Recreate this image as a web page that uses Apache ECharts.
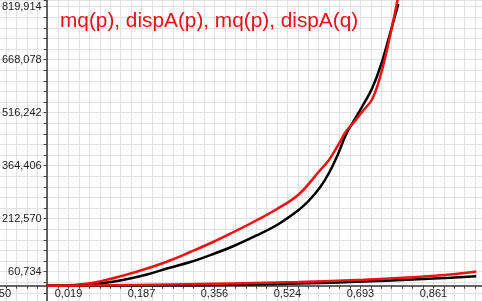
<!DOCTYPE html>
<html><head><meta charset="utf-8">
<script src="https://cdn.jsdelivr.net/npm/echarts@6/dist/echarts.min.js"></script>
<style>html,body{margin:0;padding:0;background:#fff}#c{width:482px;height:301px}</style>
</head><body><div id="c"></div>
<script>
var titleText = 'mq(p), dispA(p), mq(p), dispA(q)';
var xTickLabels = ['-0,150', '0,019', '0,187', '0,356', '0,524', '0,693', '0,861'];
var yTickLabels = ['-91,102', '60,734', '212,570', '364,406', '516,242', '668,078', '819,914'];
var xMin = -0.14955, xMax = 0.9732, xStep = 0.16845;
var yMin = -91102, yMax = 839100, yStep = 151836;

var blackX = [-0.031, 0.0, 0.05, 0.1, 0.15, 0.2, 0.25, 0.3, 0.35, 0.4, 0.45, 0.5, 0.55, 0.575, 0.6, 0.62, 0.64, 0.66, 0.68, 0.70, 0.72, 0.74, 0.76, 0.78];
var mqBlack = [20627, 20913, 22632, 28362, 38389, 52713, 71334, 88523, 110009, 134359, 163007, 194520, 237492, 266140, 303383, 343490, 395056, 455217, 498189, 541161, 586998, 652888, 738832, 827641];
var redX = [-0.031, 0.0, 0.05, 0.1, 0.15, 0.2, 0.25, 0.3, 0.35, 0.4, 0.45, 0.5, 0.55, 0.6, 0.62, 0.64, 0.66, 0.68, 0.70, 0.72, 0.74, 0.76, 0.78];
var dispRed = [20627, 21200, 24638, 35524, 51280, 69901, 91387, 117171, 144386, 174467, 205979, 240357, 281897, 352084, 380732, 420839, 463811, 492459, 523972, 555485, 627105, 730238, 850559];
var smallRedX = [-0.031, 0.1, 0.25, 0.4, 0.55, 0.7, 0.8, 0.9, 0.96];
var smallRed = [20627, 21773, 24065, 27216, 31227, 37529, 43832, 52713, 61307];
var smallBlackX = [-0.031, 0.25, 0.4, 0.55, 0.7, 0.8, 0.9, 0.96];
var smallBlack = [20627, 21773, 23205, 26643, 32372, 37529, 43259, 47556];

function pairs(xs, ys) { return xs.map(function (x, i) { return [x, ys[i]]; }); }
var gridColor = '#e2e2e2';
var chart = echarts.init(document.getElementById('c'), null, {renderer: 'canvas'});
function line(name, xs, ys, color) {
  return {name: name, type: 'line', data: pairs(xs, ys), showSymbol: false, smooth: 0.4,
    lineStyle: {color: color, width: 2.5}, itemStyle: {color: color}, clip: true};
}
chart.setOption({
  animation: false,
  backgroundColor: '#fff',
  title: {text: titleText, left: 60, top: 11, padding: 0,
    textStyle: {fontFamily: 'Liberation Sans', fontSize: 20.8, fontWeight: 'normal', color: '#e8101a'}},
  grid: {left: -4.5, right: 0, top: 0, bottom: -23.7, containLabel: false, outerBoundsMode: 'none'},
  xAxis: {type: 'value', min: xMin, max: xMax, interval: xStep, position: 'bottom', offset: -39,
    axisLine: {onZero: false, lineStyle: {color: '#333', width: 1.5}},
    axisTick: {show: true, length: 3, lineStyle: {color: '#444'}},
    minorTick: {show: true, splitNumber: 7, length: 3, lineStyle: {color: '#444'}},
    splitLine: {show: true, lineStyle: {color: gridColor, width: 1}},
    minorSplitLine: {show: true, lineStyle: {color: gridColor, width: 1}},
    axisLabel: {showMaxLabel: false, showMinLabel: true, margin: 3, color: '#222', fontSize: 11,
      fontFamily: 'Liberation Sans',
      formatter: function (v) { var i = Math.round((v - xMin) / xStep); return xTickLabels[i] || ''; }}},
  yAxis: {type: 'value', min: yMin, max: yMax, interval: yStep, position: 'left', offset: -51.2,
    axisLine: {onZero: false, lineStyle: {color: '#333', width: 1.5}},
    axisTick: {show: true, length: 3, lineStyle: {color: '#444'}},
    minorTick: {show: true, splitNumber: 5, length: 3, lineStyle: {color: '#444'}},
    splitLine: {show: true, lineStyle: {color: gridColor, width: 1}},
    minorSplitLine: {show: true, lineStyle: {color: gridColor, width: 1}},
    axisLabel: {showMaxLabel: false, showMinLabel: false, margin: 5, color: '#222', fontSize: 11,
      fontFamily: 'Liberation Sans',
      formatter: function (v) { var i = Math.round((v - yMin) / yStep); return yTickLabels[i] || ''; }}},
  series: [
    line('mq(p)', blackX, mqBlack, '#000'),
    line('dispA(p)', redX, dispRed, '#ee1111'),
    line('mq(p) ', smallBlackX, smallBlack, '#000'),
    line('dispA(q)', smallRedX, smallRed, '#ee1111')
  ]
});
</script></body></html>
